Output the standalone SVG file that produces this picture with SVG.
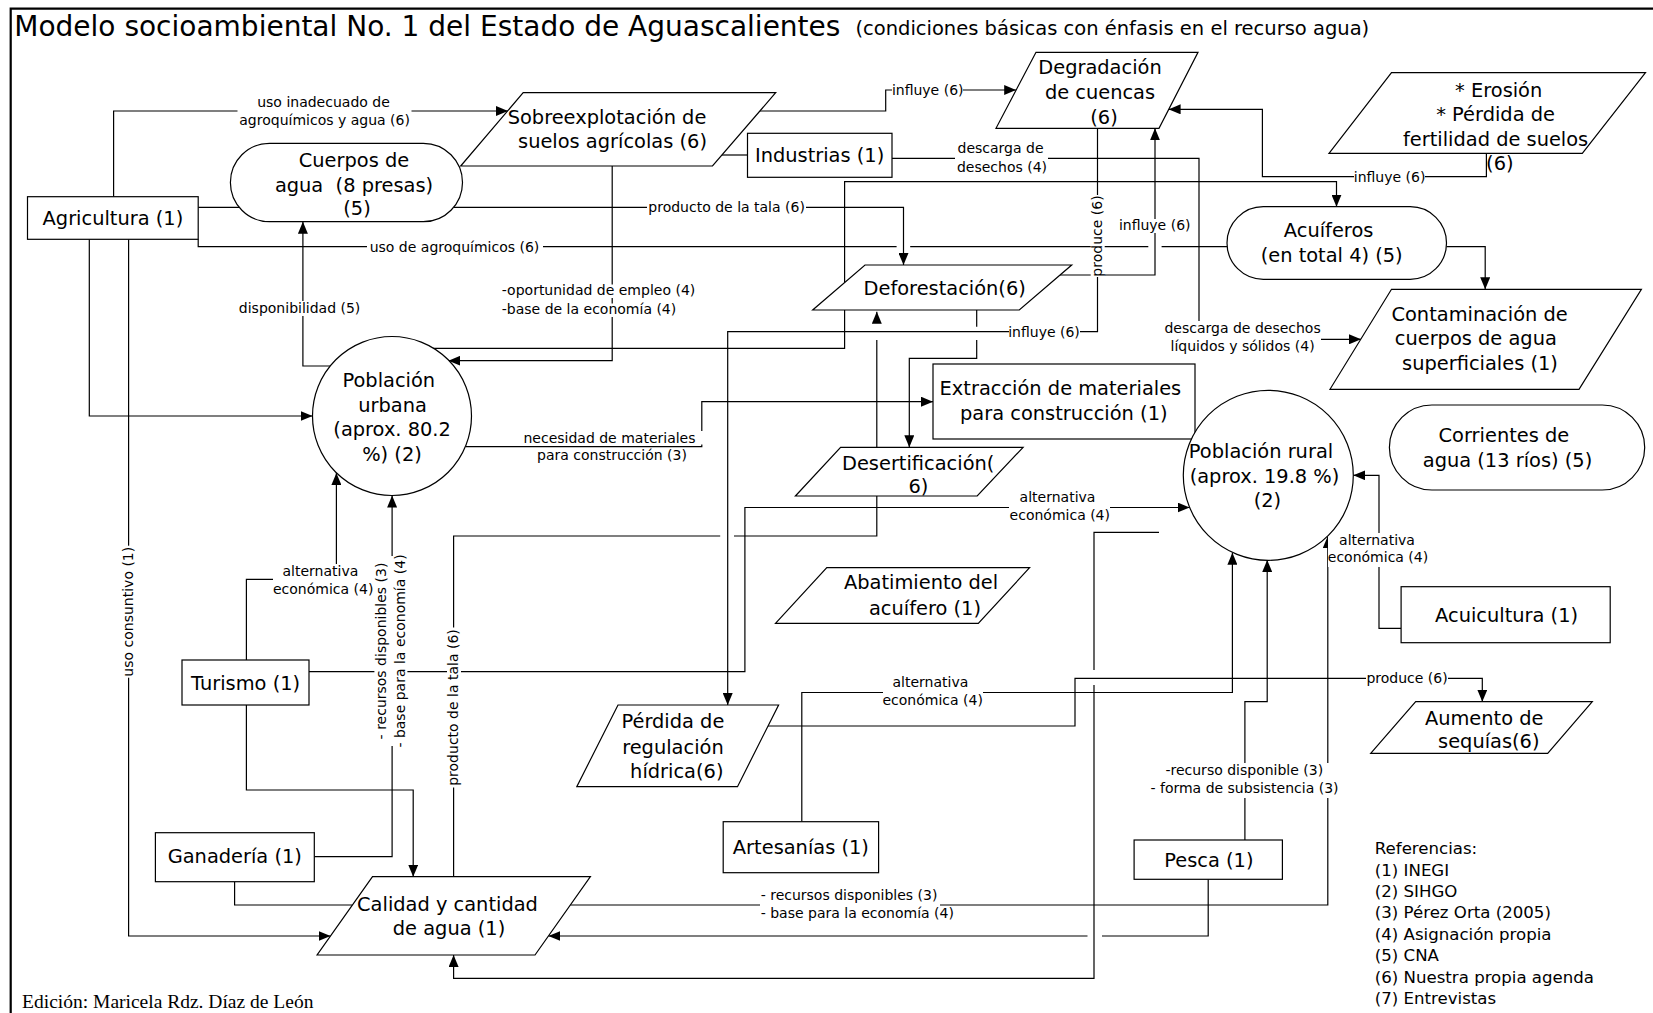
<svg xmlns="http://www.w3.org/2000/svg" width="1653" height="1013" viewBox="0 0 1653 1013">
  <defs>
    <marker id="ah" viewBox="0 0 12 10" refX="12" refY="5" markerWidth="12" markerHeight="10" markerUnits="userSpaceOnUse" orient="auto">
      <path d="M0,0 L12,5 L0,10 z" fill="#000"/>
    </marker>
    <style>
      .n { fill: #fff; stroke: #000; stroke-width: 1.2; }
      .t { font-family: "DejaVu Sans", "Liberation Sans", sans-serif; font-size: 19.4px; fill: #000; text-anchor: middle; }
      .c { fill: none; stroke: #000; stroke-width: 1.2; }
      .a { marker-end: url(#ah); }
      .l { font-family: "DejaVu Sans", "Liberation Sans", sans-serif; font-size: 14px; fill: #000; text-anchor: middle; }
      .ls { text-anchor: start; }
      .bg { fill: #fff; }
      .ref { font-family: "DejaVu Sans", "Liberation Sans", sans-serif; font-size: 16.6px; fill: #000; }
    </style>
  </defs>

  <rect width="1653" height="1013" fill="#fff"/>

  <!-- frame and heading -->
  <path d="M1653,8.7 H10.7 V1013" fill="none" stroke="#000" stroke-width="2.2"/>
  <text x="14.3" y="36" font-family="DejaVu Sans, Liberation Sans, sans-serif" font-size="28" fill="#000">Modelo socioambiental No. 1 del Estado de Aguascalientes</text>
  <text x="855.4" y="35.3" font-family="DejaVu Sans, Liberation Sans, sans-serif" font-size="19.5" fill="#000">(condiciones básicas con énfasis en el recurso agua)</text>

  <g id="connectors">
    <path class="c a" d="M113.6,196.7 V111 H508"/>
    <path class="c" d="M198.2,207.3 H239"/>
    <path class="c" d="M198.2,239.3 V246.7 H896.6 M910.2,246.7 H1148.3 M1161.6,246.7 H1227"/>
    <path class="c a" d="M89.3,239.3 V416 H312.5"/>
    <path class="c a" d="M128.6,239.3 V936 H330.5"/>
    <path class="c a" d="M333,366 H302.9 V221.7"/>
    <path class="c a" d="M612.2,166 V360.7 H448.4"/>
    <path class="c" d="M722,155 H747.5"/>
    <path class="c a" d="M760,111 H885.7 V90 H1016.2"/>
    <path class="c a" d="M892,158.3 H1199 V339.3 H1361"/>
    <path class="c a" d="M454,207.3 H903.5 V265"/>
    <path class="c a" d="M1060,275 H1155 V128.3"/>
    <path class="c a" d="M1097.5,128.3 V331.7 H727.7 V705"/>
    <path class="c a" d="M1486.4,153.3 V176.7 H1262.4 V109.3 H1168.6"/>
    <path class="c a" d="M1446.5,246.7 H1485.2 V289.3"/>
    <path class="c a" d="M430,348.3 H844.6 V181.7 H1336.5 V206.7"/>
    <path class="c a" d="M466,446.7 H701.8 V401.7 H933"/>
    <path class="c a" d="M976.7,310 V326.7 M976.7,340 V358.3 H909.3 V447.3"/>
    <path class="c a" d="M453.6,876.7 V536 H720.2 M734,536 H876.8 V340 M876.8,321.7 V311.7"/>
    <path class="c a" d="M246.4,660 V579.3 H336.4 V473"/>
    <path class="c a" d="M246.4,705 V790 H413.2 V876.7"/>
    <path class="c a" d="M309,671.7 H744.9 V507.5 H1189.6"/>
    <path class="c a" d="M314.3,856.7 H392.1 V495.5"/>
    <path class="c" d="M234.6,881.7 V905 H352.5"/>
    <path class="c a" d="M570.4,905 H1327.8 V536"/>
    <path class="c a" d="M1244.9,840 V701.7 H1267.2 V560"/>
    <path class="c a" d="M1208.2,879.3 V936 H1102 M1087.5,936 H548.4"/>
    <path class="c a" d="M1159,532.3 H1094 V670 M1094,685 V978.3 H453.6 V955"/>
    <path class="c a" d="M768,726 H1075 V678.3 H1482.3 V701.7"/>
    <path class="c a" d="M801.8,821.7 V692.5 H1232.4 V552.7"/>
    <path class="c a" d="M1401.1,628.3 H1379 V475.3 H1353.3"/>

    <!-- connector labels -->
    <g>
      <rect class="bg" x="237.5" y="95" width="174" height="33"/>
      <text class="l" x="323.5" y="107">uso inadecuado de</text>
      <text class="l" x="324.6" y="124.5">agroquímicos y agua (6)</text>
    </g>
    <g>
      <rect class="bg" x="367" y="240" width="176" height="14"/>
      <text class="l" x="454.5" y="251.7">uso de agroquímicos (6)</text>
    </g>
    <g>
      <rect class="bg" x="237" y="301" width="126" height="15"/>
      <text class="l" x="299.6" y="313">disponibilidad (5)</text>
    </g>
    <g>
      <rect class="bg" x="501" y="284.5" width="196" height="13.5"/>
      <rect class="bg" x="501" y="303.5" width="177" height="13.5"/>
      <text class="l ls" x="501.8" y="295">-oportunidad de empleo (4)</text>
      <text class="l ls" x="501.8" y="314">-base de la economía (4)</text>
    </g>
    <g>
      <rect class="bg" x="647" y="201" width="159" height="13"/>
      <text class="l" x="726.6" y="212">producto de la tala (6)</text>
    </g>
    <g>
      <rect class="bg" x="892" y="84" width="71" height="13"/>
      <text class="l" x="927.7" y="95">influye (6)</text>
    </g>
    <g>
      <rect class="bg" x="955" y="141" width="93" height="34"/>
      <text class="l" x="1000.5" y="153.3">descarga de</text>
      <text class="l" x="1002" y="171.7">desechos (4)</text>
    </g>
    <g transform="translate(1101.7,236) rotate(-90)">
      <rect class="bg" x="-41" y="-11" width="82" height="14"/>
      <text class="l" x="0" y="0">produce (6)</text>
    </g>
    <g>
      <rect class="bg" x="1119" y="219" width="72" height="14"/>
      <text class="l" x="1154.7" y="230">influye (6)</text>
    </g>
    <g>
      <rect class="bg" x="1164" y="321" width="157" height="34"/>
      <text class="l" x="1242.6" y="333">descarga de desechos</text>
      <text class="l" x="1242.6" y="351">líquidos y sólidos (4)</text>
    </g>
    <g>
      <rect class="bg" x="1354" y="170" width="71" height="14"/>
      <text class="l" x="1389.6" y="181.5">influye (6)</text>
    </g>
    <g>
      <rect class="bg" x="1009" y="325" width="71" height="14"/>
      <text class="l" x="1044" y="336.5">influye (6)</text>
    </g>
    <g>
      <rect class="bg" x="521" y="431" width="182" height="13.5"/>
      <rect class="bg" x="535" y="448.5" width="155" height="15"/>
      <text class="l" x="609.5" y="443">necesidad de materiales</text>
      <text class="l" x="612" y="460">para construcción (3)</text>
    </g>
    <g>
      <rect class="bg" x="1009" y="490" width="101" height="34"/>
      <text class="l" x="1057.5" y="501.7">alternativa</text>
      <text class="l" x="1059.8" y="520">económica (4)</text>
    </g>
    <g>
      <rect class="bg" x="273" y="564" width="100" height="34"/>
      <text class="l" x="320.4" y="576">alternativa</text>
      <text class="l" x="323.2" y="594">económica (4)</text>
    </g>
    <g transform="translate(386.4,651) rotate(-90)">
      <rect class="bg" x="-95" y="-12" width="190" height="33"/>
      <text class="l" x="0" y="0">- recursos disponibles (3)</text>
      <text class="l" x="0" y="19">- base para la economía (4)</text>
    </g>
    <g transform="translate(132.5,611.7) rotate(-90)">
      <rect class="bg" x="-66" y="-11" width="132" height="14"/>
      <text class="l" x="0" y="0">uso consuntivo (1)</text>
    </g>
    <g transform="translate(458,707.5) rotate(-90)">
      <rect class="bg" x="-80" y="-11" width="160" height="14"/>
      <text class="l" x="0" y="0">producto de la tala (6)</text>
    </g>
    <g>
      <rect class="bg" x="1328" y="533" width="101" height="34"/>
      <text class="l" x="1377" y="545">alternativa</text>
      <text class="l" x="1378" y="562.3">económica (4)</text>
    </g>
    <g>
      <rect class="bg" x="883" y="675" width="100" height="34"/>
      <text class="l" x="930.4" y="686.7">alternativa</text>
      <text class="l" x="932.7" y="705.3">económica (4)</text>
    </g>
    <g>
      <rect class="bg" x="1150" y="763" width="189" height="35"/>
      <text class="l" x="1244.3" y="775">-recurso disponible (3)</text>
      <text class="l" x="1244.5" y="793.3">- forma de subsistencia (3)</text>
    </g>
    <g>
      <rect class="bg" x="1366" y="672" width="82" height="13"/>
      <text class="l" x="1407.1" y="683">produce (6)</text>
    </g>
    <g>
      <rect class="bg" x="760" y="889" width="180" height="20"/>
      <rect class="bg" x="760" y="907" width="194" height="14"/>
      <text class="l ls" x="760.7" y="900">- recursos disponibles (3)</text>
      <text class="l ls" x="760.7" y="917.5">- base para la economía (4)</text>
    </g>
  </g>

  <!-- nodes -->
  <g id="agricultura">
    <rect class="n" x="27.5" y="196.7" width="170.7" height="42.6"/>
    <text class="t" x="112.9" y="224.5">Agricultura (1)</text>
  </g>
  <g id="cuerpos-agua">
    <rect class="n" x="230.4" y="143.3" width="232.1" height="78.4" rx="39.2"/>
    <text class="t" x="354" y="166.7">Cuerpos de</text>
    <text class="t" x="354" y="191.7" xml:space="preserve" style="white-space:pre">agua  (8 presas)</text>
    <text class="t" x="357" y="215">(5)</text>
  </g>
  <g id="sobreexplotacion">
    <polygon class="n" points="523.2,92.7 775.7,92.7 712.5,166 460.7,166"/>
    <text class="t" x="607" y="124">Sobreexplotación de</text>
    <text class="t" x="612.5" y="148.3">suelos agrícolas (6)</text>
  </g>
  <g id="industrias">
    <rect class="n" x="747.5" y="133.3" width="144.5" height="44"/>
    <text class="t" x="819.6" y="161.7">Industrias (1)</text>
  </g>
  <g id="degradacion">
    <polygon class="n" points="1036,52.3 1198,52.3 1159,128.3 996,128.3"/>
    <text class="t" x="1100" y="74">Degradación</text>
    <text class="t" x="1100" y="99.3">de cuencas</text>
    <text class="t" x="1104" y="124">(6)</text>
  </g>
  <g id="erosion">
    <polygon class="n" points="1391.5,72.7 1645.5,72.7 1582.3,153.3 1329,153.3"/>
    <text class="t" x="1498.7" y="96.7">* Erosión</text>
    <text class="t" x="1495.6" y="120.7">* Pérdida de</text>
    <text class="t" x="1495.6" y="145.7">fertilidad de suelos</text>
    <text class="t" x="1499.8" y="170">(6)</text>
  </g>
  <g id="acuiferos">
    <rect class="n" x="1227" y="206.7" width="219.5" height="72.6" rx="36.3"/>
    <text class="t" x="1328.6" y="237.3">Acuíferos</text>
    <text class="t" x="1331.7" y="261.7">(en total 4) (5)</text>
  </g>
  <g id="deforestacion">
    <polygon class="n" points="865,265 1071.7,265 1019.3,310 812.7,310"/>
    <text class="t" x="944.7" y="295">Deforestación(6)</text>
  </g>
  <g id="contaminacion">
    <polygon class="n" points="1391.5,289.3 1641.4,289.3 1579,389.3 1330,389.3"/>
    <text class="t" x="1479.6" y="320.7">Contaminación de</text>
    <text class="t" x="1475.8" y="345">cuerpos de agua</text>
    <text class="t" x="1480" y="370">superficiales (1)</text>
  </g>
  <g id="poblacion-urbana">
    <circle class="n" cx="392" cy="416" r="79.5"/>
    <text class="t" x="388.8" y="387.3">Población</text>
    <text class="t" x="392.5" y="411.7">urbana</text>
    <text class="t" x="392.1" y="436">(aprox. 80.2</text>
    <text class="t" x="392" y="460.7">%) (2)</text>
  </g>
  <g id="extraccion">
    <rect class="n" x="933" y="364" width="262" height="75"/>
    <text class="t" x="1060.4" y="395">Extracción de materiales</text>
    <text class="t" x="1063.8" y="420">para construcción (1)</text>
  </g>
  <g id="desertificacion">
    <polygon class="n" points="840.6,447.3 1023.1,447.3 977.2,496 795.4,496"/>
    <text class="t" x="918.2" y="470">Desertificación(</text>
    <text class="t" x="918.4" y="493.3">6)</text>
  </g>
  <g id="poblacion-rural">
    <circle class="n" cx="1268.3" cy="475.3" r="85"/>
    <text class="t" x="1261" y="458.3">Población rural</text>
    <text class="t" x="1264.5" y="483.3">(aprox. 19.8 %)</text>
    <text class="t" x="1267.4" y="506.7">(2)</text>
  </g>
  <g id="corrientes">
    <rect class="n" x="1389.4" y="405" width="255.3" height="85" rx="42.5"/>
    <text class="t" x="1503.9" y="441.7">Corrientes de</text>
    <text class="t" x="1507.5" y="466.7">agua (13 ríos) (5)</text>
  </g>
  <g id="abatimiento">
    <polygon class="n" points="826.8,567.7 1029.6,567.7 978.3,623.3 775.5,623.3"/>
    <text class="t" x="921.1" y="589.3">Abatimiento del</text>
    <text class="t" x="925" y="615">acuífero (1)</text>
  </g>
  <g id="acuicultura">
    <rect class="n" x="1401.1" y="586.7" width="209.1" height="56"/>
    <text class="t" x="1506.6" y="621.7">Acuicultura (1)</text>
  </g>
  <g id="turismo">
    <rect class="n" x="182" y="660" width="127" height="45"/>
    <text class="t" x="245.6" y="690">Turismo (1)</text>
  </g>
  <g id="perdida-regulacion">
    <polygon class="n" points="618,705 778.6,705 737.5,786.7 576.8,786.7"/>
    <text class="t" x="672.9" y="728.3">Pérdida de</text>
    <text class="t" x="672.9" y="754">regulación</text>
    <text class="t" x="676.8" y="778.3">hídrica(6)</text>
  </g>
  <g id="aumento-sequias">
    <polygon class="n" points="1415.7,701.7 1592.3,701.7 1547.7,753.3 1370.7,753.3"/>
    <text class="t" x="1484.2" y="725">Aumento de</text>
    <text class="t" x="1488.8" y="748.3">sequías(6)</text>
  </g>
  <g id="artesanias">
    <rect class="n" x="723.2" y="821.7" width="155.4" height="51"/>
    <text class="t" x="800.9" y="854">Artesanías (1)</text>
  </g>
  <g id="ganaderia">
    <rect class="n" x="155.4" y="832.7" width="158.9" height="49"/>
    <text class="t" x="234.8" y="863.3">Ganadería (1)</text>
  </g>
  <g id="pesca">
    <rect class="n" x="1134.1" y="840" width="148.3" height="39.3"/>
    <text class="t" x="1208.9" y="866.7">Pesca (1)</text>
  </g>
  <g id="calidad-agua">
    <polygon class="n" points="372.5,876.7 590.4,876.7 535,955 317.1,955"/>
    <text class="t" x="447.5" y="910.7">Calidad y cantidad</text>
    <text class="t" x="449" y="935">de agua (1)</text>
  </g>

  <!-- key to sources -->
  <g id="referencias">
    <text class="ref" x="1374.8" y="854">Referencias:</text>
    <text class="ref" x="1374.8" y="875.5">(1) INEGI</text>
    <text class="ref" x="1374.8" y="896.9">(2) SIHGO</text>
    <text class="ref" x="1374.8" y="918.4">(3) Pérez Orta (2005)</text>
    <text class="ref" x="1374.8" y="939.8">(4) Asignación propia</text>
    <text class="ref" x="1374.8" y="961.3">(5) CNA</text>
    <text class="ref" x="1374.8" y="982.7">(6) Nuestra propia agenda</text>
    <text class="ref" x="1374.8" y="1004.2">(7) Entrevistas</text>
  </g>

  <text x="22.1" y="1008.3" font-family="Liberation Serif, DejaVu Serif, serif" font-size="19.5" fill="#000">Edición: Maricela Rdz. Díaz de León</text>
</svg>
